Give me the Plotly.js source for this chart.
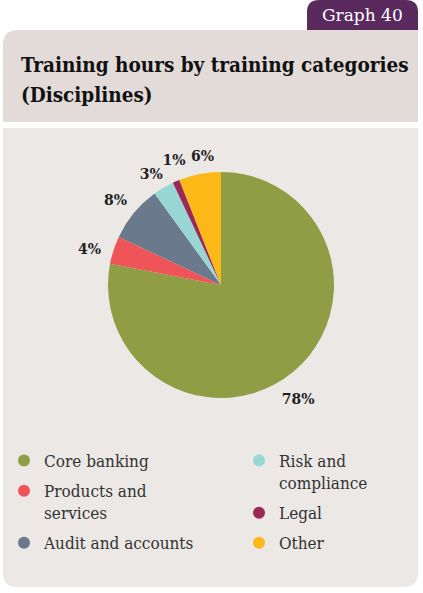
<!DOCTYPE html>
<html>
<head>
<meta charset="utf-8">
<script src="https://cdn.plot.ly/plotly-3.0.1.min.js"></script>
<style>
html,body{margin:0;padding:0;background:#ffffff;}
#chart{width:423px;height:593px;}
#chart path.textline{stroke-opacity:0 !important;}
</style>
</head>
<body>
<div id="chart"></div>
<script>
// ---- data ----
const categories = ["Core banking", "Products and services", "Audit and accounts", "Risk and compliance", "Legal", "Other"];
const legendLabels = ["Core banking", "Products and<br>services", "Audit and accounts", "Risk and<br>compliance", "Legal", "Other"];
const shares = [78, 4, 8, 3, 1, 6];
const colors = ["#8f9e44", "#ef5558", "#6a7a8c", "#98d6d4", "#9a2a55", "#fbb817"];
const chartTitleLines = ["Training hours by training categories", "(Disciplines)"];
const graphTag = "Graph 40";

// ---- layout helpers (pixels) ----
const W = 423, H = 593;
const px = x => x / W;
const py = y => 1 - y / H;
function pathPx(cmds) {
  return cmds.map(c => {
    const op = c[0];
    const nums = c.slice(1);
    const out = [];
    for (let i = 0; i < nums.length; i += 2) out.push(px(nums[i]).toFixed(5) + "," + py(nums[i + 1]).toFixed(5));
    return op + " " + out.join(" ");
  }).join(" ") + " Z";
}
const pieCenter = [221, 285], pieR = 113, labelR = 122;
// small nudges (px) of each slice's label layer, so labels sit as in the original
const labelNudge = [[-21, 15], [0, 2], [4, -4], [8, 0], [17, -6], [20, -1]];

const serif = "DejaVu Serif";
const serifC = "'DejaVu Serif Condensed', 'DejaVu Serif'";

// visible pie (no text)
const pie = {
  type: "pie",
  labels: categories,
  values: shares,
  marker: {colors: colors, line: {width: 0}},
  sort: false,
  direction: "clockwise",
  rotation: 0,
  textinfo: "none",
  showlegend: false,
  hoverinfo: "label+percent",
  domain: {x: [px(pieCenter[0] - pieR), px(pieCenter[0] + pieR)], y: [py(pieCenter[1] + pieR), py(pieCenter[1] - pieR)]}
};

// transparent, slightly larger pies that each carry one slice's outside percentage label
const labelPies = categories.map((c, k) => {
  const cx = pieCenter[0] + labelNudge[k][0], cy = pieCenter[1] + labelNudge[k][1];
  return {
    type: "pie",
    labels: categories,
    values: shares,
    marker: {colors: categories.map(() => "rgba(0,0,0,0)"), line: {width: 0}},
    sort: false,
    direction: "clockwise",
    rotation: 0,
    textinfo: "percent",
    textposition: categories.map((_, j) => (j === k ? "outside" : "none")),
    outsidetextfont: {family: serif, size: 14, color: "#222222", weight: "bold"},
    showlegend: false,
    hoverinfo: "skip",
    domain: {x: [px(cx - labelR), px(cx + labelR)], y: [py(cy + labelR), py(cy - labelR)]}
  };
});

const legendTraces = categories.map((c, i) => ({
  type: "scatter",
  mode: "markers",
  x: [null], y: [null],
  name: legendLabels[i],
  legendgroup: "g" + i,
  marker: {color: colors[i], size: 12, symbol: "circle"},
  legend: i < 3 ? "legend" : "legend2",
  hoverinfo: "skip"
}));

const legendCommon = {
  orientation: "v",
  bgcolor: "rgba(0,0,0,0)",
  font: {family: serifC, size: 17, color: "#333333"},
  valign: "top",
  tracegroupgap: 5,
  xanchor: "left",
  yanchor: "top",
  itemclick: false,
  itemdoubleclick: false
};

const layout = {
  width: W, height: H,
  margin: {l: 0, r: 0, t: 0, b: 0},
  paper_bgcolor: "#ffffff",
  plot_bgcolor: "rgba(0,0,0,0)",
  xaxis: {visible: false, domain: [0, 0.01]},
  yaxis: {visible: false, domain: [0, 0.01]},
  legend: Object.assign({}, legendCommon, {x: px(4), y: py(443)}),
  legend2: Object.assign({}, legendCommon, {x: px(239), y: py(443)}),
  shapes: [
    {type: "path", xref: "paper", yref: "paper", layer: "below", line: {width: 0}, fillcolor: "#5a2a5e",
     path: pathPx([["M", 307, 30], ["L", 307, 12], ["Q", 307, 0, 319, 0], ["L", 406, 0], ["Q", 418, 0, 418, 12], ["L", 418, 30]])},
    {type: "path", xref: "paper", yref: "paper", layer: "below", line: {width: 0}, fillcolor: "#e2dbd8",
     path: pathPx([["M", 3, 122], ["L", 3, 45], ["Q", 3, 30, 18, 30], ["L", 418, 30], ["L", 418, 122]])},
    {type: "path", xref: "paper", yref: "paper", layer: "below", line: {width: 0}, fillcolor: "#ece8e5",
     path: pathPx([["M", 3, 128], ["L", 418, 128], ["L", 418, 573], ["Q", 418, 587, 404, 587], ["L", 17, 587], ["Q", 3, 587, 3, 573]])}
  ],
  annotations: [
    {xref: "paper", yref: "paper", x: px(362), y: py(15), xanchor: "center", yanchor: "middle",
     text: graphTag, showarrow: false, font: {family: serif, size: 17, color: "#ffffff"}}
  ].concat(chartTitleLines.map((t, i) => ({
    xref: "paper", yref: "paper", x: px(19), y: py(65 + 30 * i), xanchor: "left", yanchor: "middle", align: "left",
    text: t, showarrow: false, font: {family: serifC, size: 20.5, color: "#111111", weight: "bold"}
  })))
};

Plotly.newPlot("chart", [pie].concat(labelPies, legendTraces), layout, {displayModeBar: false});
</script>
</body>
</html>
